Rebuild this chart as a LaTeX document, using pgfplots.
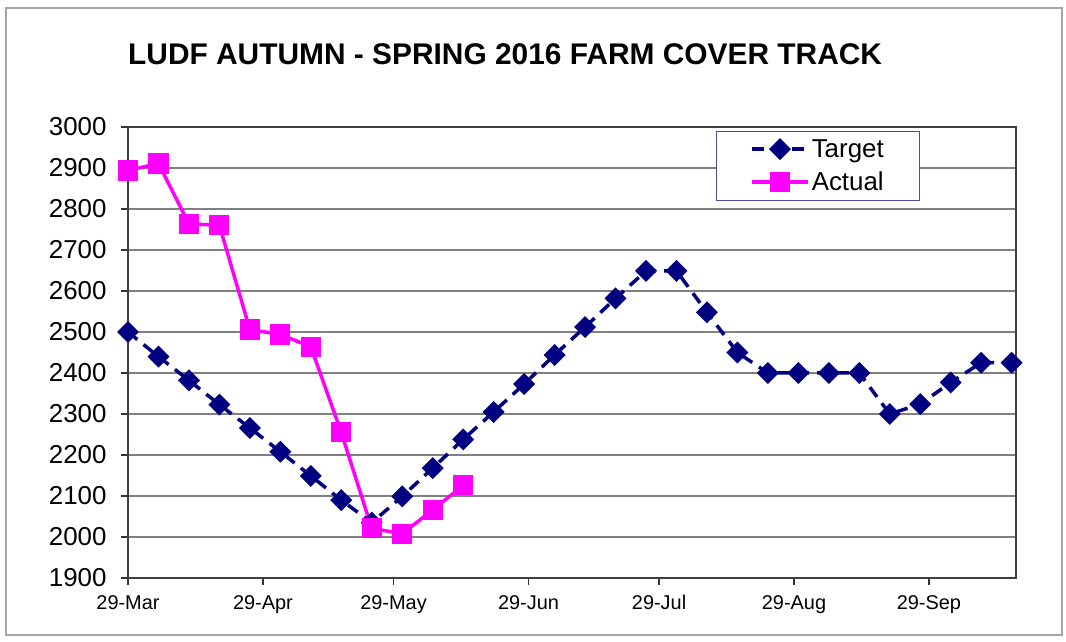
\documentclass[border=0pt]{standalone}
\usepackage{pgfplots}
\pgfplotsset{compat=1.18}
\usepackage{fontspec}
\setmainfont{Liberation Sans}

\definecolor{navyt}{RGB}{0,0,128}
\definecolor{magact}{RGB}{255,0,255}
\definecolor{gridc}{RGB}{128,128,128}

\begin{document}
\begin{tikzpicture}
\begin{axis}[
    at={(0,0)}, anchor=south west,
    scale only axis,
    width=888bp, height=451bp,
    xmin=0, xmax=204,
    ymin=1900, ymax=3000,
    xtick={0,31,61,92,122,153,184},
    xticklabels={29-Mar,29-Apr,29-May,29-Jun,29-Jul,29-Aug,29-Sep},
    ytick distance=100,
    /pgf/number format/assume math mode=true,
    /pgf/number format/1000 sep={},
    yticklabel style={font=\fontsize{26}{30}\selectfont, xshift=-11bp},
    xticklabel style={font=\fontsize{20}{24}\selectfont, yshift=-7bp},
    tick align=outside,
    xtick pos=bottom, ytick pos=left,
    major tick length=7bp,
    tick style={black!80, line width=1.2bp},
    axis line style={black!75, line width=1.3bp},
    ymajorgrids,
    major grid style={gridc, line width=1.2bp},
    title={\bfseries LUDF AUTUMN - SPRING 2016 FARM COVER TRACK},
    title style={font=\fontsize{30}{36}\selectfont, at={(0,1)}, anchor=base west, yshift=57bp, inner sep=0pt},
    legend style={at={(0.662,0.991)}, anchor=north west,
        draw=navyt!70, line width=0.8bp,
        font=\fontsize{26}{30}\selectfont,
        inner xsep=34bp, inner ysep=6bp, row sep=9bp,
        nodes={inner xsep=2bp}},
    legend cell align=left,
    legend image code/.code={\draw[mark repeat=2, mark phase=2, #1] plot coordinates {(0bp,0bp) (28bp,0bp) (56bp,0bp)};},
]
\addplot[navyt, line width=3.5bp, dash pattern=on 12bp off 8bp,
    mark=square*, mark size=6bp, mark options={solid, rotate=45, fill=navyt}]
coordinates {
(0,2500) (7,2440) (14,2382) (21,2323) (28,2266) (35,2208) (42,2149) (49,2090)
(56,2035) (63,2099) (70,2168) (77,2238) (84,2305) (91,2373) (98,2444) (105,2512)
(112,2582) (119,2649) (126,2649) (133,2548) (140,2450) (147,2400) (154,2400)
(161,2400) (168,2400) (175,2300) (182,2324) (189,2377) (196,2425) (203,2425)
};
\addplot[magact, line width=3.5bp, mark=square*, mark size=8.3bp, mark options={solid, fill=magact}]
coordinates {
(0,2894) (7,2911) (14,2764) (21,2760) (28,2506) (35,2494) (42,2464) (49,2255)
(56,2021) (63,2008) (70,2066) (77,2126)
};
\legend{Target,Actual}
\end{axis}
\draw[gray!70, line width=1.2bp] (-122bp,-57bp) rectangle (934bp,570bp);
\pgfresetboundingbox
\path (-128bp,-64bp) rectangle (938bp,578bp);
\end{tikzpicture}
\end{document}
